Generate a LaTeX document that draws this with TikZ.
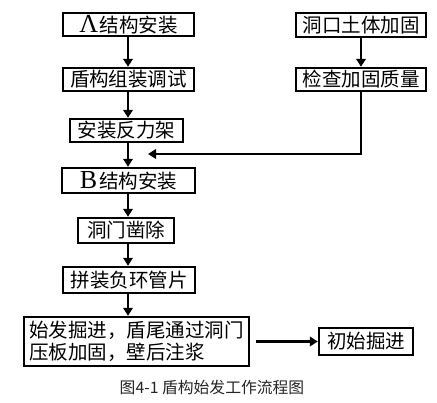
\documentclass[tikz,border=0pt]{standalone}
\usepackage{fontspec}
\setmainfont{Noto Sans CJK SC}
\newfontfamily\latf{Liberation Serif}
\usetikzlibrary{arrows.meta}
\begin{document}
\begin{tikzpicture}[x=1pt,y=-1pt,
  box/.style={draw=black,line width=2.4pt,inner sep=0pt,align=center,
    font=\fontsize{19.5}{22}\selectfont},
  arr/.style={line width=2.6pt,-{Triangle[width=9.5pt,length=8pt]}}]
\useasboundingbox[fill=white] (0,0) rectangle (437,403);
\node[box,minimum width=131pt,minimum height=23pt] (b1) at (128.5,24.8) {{\latf\fontsize{26}{22}\selectfont Λ}\hspace{1.5pt}结构安装};
\node[box,minimum width=131pt,minimum height=23pt] (b2) at (128.5,79.5) {盾构组装调试};
\node[box,minimum width=113pt,minimum height=23pt] (b3) at (126.5,130.5) {安装反力架};
\node[box,minimum width=133pt,minimum height=25pt] (b4) at (128.5,180.5) {{\latf\fontsize{26}{22}\selectfont B}\hspace{2pt}结构安装};
\node[box,minimum width=130pt,minimum height=24pt] (r1) at (361,25) {洞口土体加固};
\node[box,minimum width=130pt,minimum height=23pt] (r2) at (361,79.5) {检查加固质量};
\node[box,minimum width=96pt,minimum height=25pt] (b5) at (126,230.5) {洞门凿除};
\node[box,minimum width=132pt,minimum height=26pt] (b6) at (129,280) {拼装负环管片};
\node[box,minimum width=225pt,minimum height=49pt,align=left,
  font=\fontsize{19.5}{21.5}\selectfont] (b7) at (136.5,341.5) {始发掘进，盾尾通过洞门\\压板加固，壁后注浆};
\node[box,minimum width=94pt,minimum height=27pt] (b8) at (366,341.5) {初始掘进};
\node[font=\fontsize{15.8}{18}\selectfont,text=black!85] (cap) at (212,387) {图4-1 盾构始发工作流程图};
\coordinate (mj) at (148,154);
\draw[arr] (b1.south -| 128,0) -- (b2.north -| 128,0);
\draw[arr] (b2.south -| 128,0) -- (b3.north -| 128,0);
\draw[arr] (b3.south -| 128,0) -- (b4.north -| 128,0);
\draw[arr] (b4.south -| 128,0) -- (b5.north -| 128,0);
\draw[arr] (b5.south -| 128,0) -- (b6.north -| 128,0);
\draw[arr] (b6.south -| 128,0) -- (b7.north -| 128,0);
\draw[arr] (r1.south) -- (r2.north);
\draw[arr] (r2.south) |- (mj);
\draw[arr,shorten <=6pt] (b7.east) -- (b8.west);
\end{tikzpicture}
\end{document}
